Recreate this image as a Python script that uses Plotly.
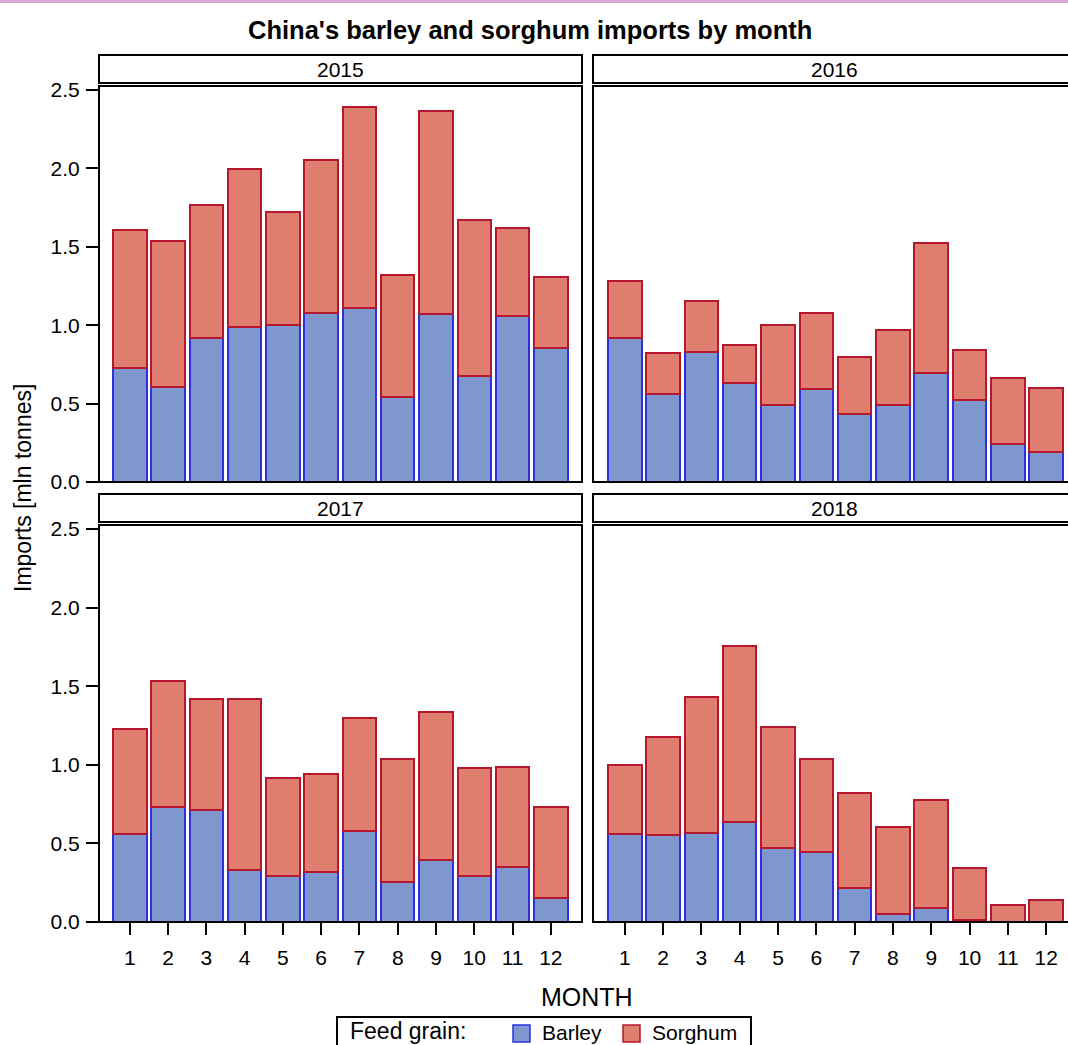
import plotly.graph_objects as go

# ---------------- data ----------------
months = list(range(1, 13))
month_labels = [str(m) for m in months]
years = ["2015", "2016", "2017", "2018"]
y_tick_vals = [0.0, 0.5, 1.0, 1.5, 2.0, 2.5]
y_tick_text = ["0.0", "0.5", "1.0", "1.5", "2.0", "2.5"]

barley_2015 = [0.729, 0.608, 0.916, 0.991, 0.999, 1.080, 1.108, 0.544, 1.071, 0.678, 1.061, 0.853]
sorghum_2015 = [0.880, 0.929, 0.851, 1.003, 0.725, 0.976, 1.281, 0.776, 1.295, 0.995, 0.557, 0.454]

barley_2016 = [0.920, 0.563, 0.829, 0.629, 0.491, 0.593, 0.436, 0.493, 0.693, 0.523, 0.240, 0.193]
sorghum_2016 = [0.362, 0.260, 0.323, 0.247, 0.510, 0.483, 0.359, 0.476, 0.831, 0.319, 0.423, 0.405]

barley_2017 = [0.561, 0.729, 0.714, 0.332, 0.290, 0.316, 0.580, 0.252, 0.394, 0.294, 0.348, 0.150]
sorghum_2017 = [0.669, 0.806, 0.708, 1.087, 0.627, 0.626, 0.718, 0.784, 0.940, 0.684, 0.641, 0.583]

barley_2018 = [0.560, 0.552, 0.565, 0.635, 0.469, 0.443, 0.217, 0.051, 0.090, 0.015, 0.003, 0.0]
sorghum_2018 = [0.439, 0.622, 0.867, 1.119, 0.773, 0.595, 0.601, 0.556, 0.684, 0.328, 0.108, 0.143]

barley_by_year = [barley_2015, barley_2016, barley_2017, barley_2018]
sorghum_by_year = [sorghum_2015, sorghum_2016, sorghum_2017, sorghum_2018]

# ---------------- styling ----------------
W, H = 1068, 1045
FONT = "Liberation Sans, Arial, Helvetica, sans-serif"
BARLEY_FILL = "#7e98cd"
BARLEY_LINE = "#2e2ee0"
SORGHUM_FILL = "#e07f6f"
SORGHUM_LINE = "#b5182e"


def px_x(p):
    return p / W


def px_y(p):
    return 1 - p / H


# panel geometry in pixels: (left, right, top, bottom)
panels = [
    (99, 582, 86, 482),
    (593, 1076, 86, 482),
    (99, 582, 525, 922),
    (593, 1076, 525, 922),
]
strip_h = 28
strip_gap = 3
xranges = [[0.195, 12.815], [0.17, 12.57], [0.195, 12.815], [0.17, 12.57]]
yrange = [0, 2.526]

fig = go.Figure()

for i in range(4):
    ax = "" if i == 0 else str(i + 1)
    fig.add_trace(go.Bar(
        x=months, y=barley_by_year[i], name="Barley",
        marker=dict(color=BARLEY_FILL, line=dict(color=BARLEY_LINE, width=2)),
        xaxis="x" + ax, yaxis="y" + ax, showlegend=False,
    ))
    fig.add_trace(go.Bar(
        x=months, y=sorghum_by_year[i], name="Sorghum",
        marker=dict(color=SORGHUM_FILL, line=dict(color=SORGHUM_LINE, width=2)),
        xaxis="x" + ax, yaxis="y" + ax, showlegend=False,
    ))

layout = dict(
    template="none",
    width=W, height=H,
    margin=dict(l=0, r=0, t=0, b=0, pad=0, autoexpand=False),
    paper_bgcolor="white", plot_bgcolor="white",
    barmode="stack", bargap=0.125,
    font=dict(family=FONT, color="black"),
    showlegend=False,
)

shapes = []
annotations = []

for i, (l, r, t, b) in enumerate(panels):
    xa = "xaxis" if i == 0 else "xaxis%d" % (i + 1)
    ya = "yaxis" if i == 0 else "yaxis%d" % (i + 1)
    xdom_r = min(r, W)
    bottom_row = i >= 2
    left_col = i % 2 == 0
    layout[xa] = dict(
        domain=[px_x(l), px_x(xdom_r)], range=xranges[i], automargin=False,
        anchor="y" if i == 0 else "y%d" % (i + 1),
        showgrid=False, zeroline=False, showline=False,
        tickmode="array", tickvals=months, ticktext=month_labels,
        ticks="outside" if bottom_row else "", ticklen=12, tickwidth=2, tickcolor="black",
        showticklabels=bottom_row, tickfont=dict(size=21, family=FONT, color="black"),
        ticklabelstandoff=5,
    )
    layout[ya] = dict(
        domain=[px_y(b), px_y(t)], range=yrange, automargin=False,
        anchor="x" if i == 0 else "x%d" % (i + 1),
        showgrid=False, zeroline=False, showline=False,
        tickmode="array", tickvals=y_tick_vals, ticktext=y_tick_text,
        ticks="outside" if left_col else "", ticklen=12, tickwidth=2, tickcolor="black",
        showticklabels=left_col, tickfont=dict(size=21, family=FONT, color="black"),
        ticklabelstandoff=2,
    )
    # panel border
    shapes.append(dict(type="rect", xref="paper", yref="paper",
                       x0=px_x(l), x1=px_x(r), y0=px_y(b), y1=px_y(t),
                       line=dict(color="black", width=2), layer="above"))
    # strip
    st_b = t - strip_gap
    st_t = st_b - strip_h
    shapes.append(dict(type="rect", xref="paper", yref="paper",
                       x0=px_x(l), x1=px_x(r), y0=px_y(st_b), y1=px_y(st_t),
                       line=dict(color="black", width=2), fillcolor="white", layer="above"))
    annotations.append(dict(xref="paper", yref="paper", x=px_x((l + r) / 2), y=px_y((st_t + st_b) / 2),
                            text=years[i], showarrow=False, xanchor="center", yanchor="middle",
                            font=dict(size=21, family=FONT, color="black")))

# top decorative line
shapes.append(dict(type="line", xref="paper", yref="paper", x0=0, x1=1,
                   y0=px_y(1.5), y1=px_y(1.5), line=dict(color="#d9a6d5", width=3)))

# title
annotations.append(dict(xref="paper", yref="paper", x=px_x(530), y=px_y(30),
                        text="<b>China's barley and sorghum imports by month</b>", showarrow=False,
                        xanchor="center", yanchor="middle",
                        font=dict(size=25.5, family=FONT, color="black")))
# y axis title
annotations.append(dict(xref="paper", yref="paper", x=px_x(23), y=px_y(488),
                        text="Imports [mln tonnes]", showarrow=False, textangle=-90,
                        xanchor="center", yanchor="middle",
                        font=dict(size=23, family=FONT, color="black")))
# x axis title
annotations.append(dict(xref="paper", yref="paper", x=px_x(587), y=px_y(997),
                        text="MONTH", showarrow=False, xanchor="center", yanchor="middle",
                        font=dict(size=25, family=FONT, color="black")))

# legend (key) drawn below
shapes.append(dict(type="rect", xref="paper", yref="paper",
                   x0=px_x(337), x1=px_x(751), y0=px_y(1060), y1=px_y(1017),
                   line=dict(color="black", width=2), fillcolor="white"))
annotations.append(dict(xref="paper", yref="paper", x=px_x(348), y=px_y(1031),
                        text="Feed grain:", showarrow=False, xanchor="left", yanchor="middle",
                        font=dict(size=23, family=FONT, color="black")))
legend_items = [("Barley", BARLEY_FILL, BARLEY_LINE, 513), ("Sorghum", SORGHUM_FILL, SORGHUM_LINE, 623)]
for name, fill, line, xs in legend_items:
    shapes.append(dict(type="rect", xref="paper", yref="paper",
                       x0=px_x(xs), x1=px_x(xs + 17), y0=px_y(1042), y1=px_y(1025),
                       line=dict(color=line, width=1.5), fillcolor=fill))
    annotations.append(dict(xref="paper", yref="paper", x=px_x(xs + 27), y=px_y(1032),
                            text=name, showarrow=False, xanchor="left", yanchor="middle",
                            font=dict(size=21, family=FONT, color="black")))

layout["shapes"] = shapes
layout["annotations"] = annotations
fig.update_layout(**layout)

fig.write_html(
    "out.html",
    config={"displayModeBar": False},
    post_script=(
        "var d=document.getElementById('{plot_id}');"
        "d.style.position='fixed';d.style.top='0px';d.style.left='0px';"
        "document.documentElement.style.margin='0';document.body.style.margin='0';"
        "document.documentElement.style.overflow='hidden';document.body.style.overflow='hidden';"
    ),
)
